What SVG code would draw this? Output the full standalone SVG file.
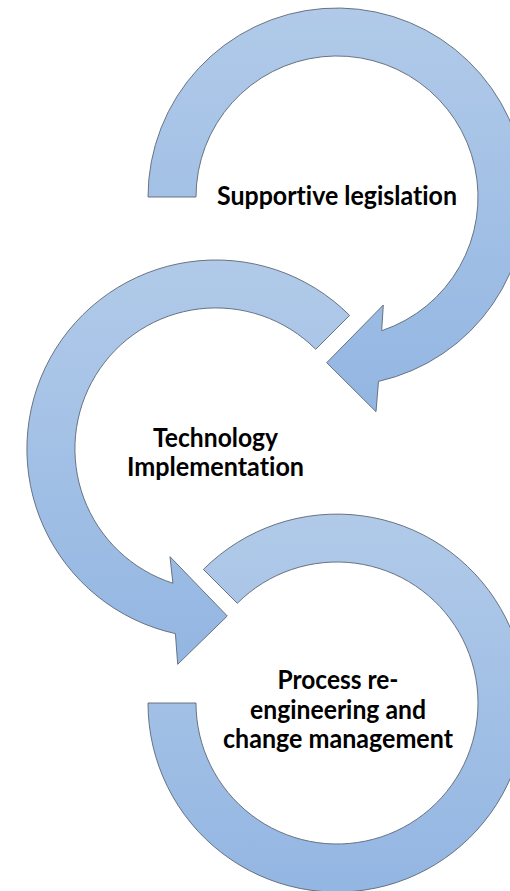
<svg xmlns="http://www.w3.org/2000/svg" width="510" height="891" viewBox="0 0 510 891">
  <defs>
    <linearGradient id="fill" x1="0" y1="0" x2="0" y2="1">
      <stop offset="0" stop-color="#B1CAE9"/>
      <stop offset="1" stop-color="#93B6E2"/>
    </linearGradient>
    <style>
      .arrow { fill: url(#fill); stroke: #5B6676; stroke-width: 0.9; stroke-linejoin: miter; }
      .label { font-family: "Lato", "Open Sans", "Liberation Sans", sans-serif; font-weight: 700; font-size: 26px; fill: #000000; text-anchor: middle; font-variant-ligatures: none; font-feature-settings: "liga" 0, "dlig" 0; }
    </style>
  </defs>
  <rect width="510" height="891" fill="#FFFFFF"/>
  <g id="connectors"/>
  <g id="node-supportive-legislation">
    <path class="arrow" d="M 148,197 A 189 189 0 1 1 378.5,381.4 L 376,411.7 L 326.7,362.7 L 383.3,305 L 381.7,330.7 A 141 141 0 1 0 196,197 Z"/>
    <text class="label" x="337" y="205" textLength="240" lengthAdjust="spacingAndGlyphs">Supportive legislation</text>
  </g>
  <g id="node-technology-implementation">
    <path class="arrow" d="M 349.6,315.4 A 189 189 0 1 0 175.4,633.6 L 177.7,664.3 L 227.3,616 L 170,556.7 L 172.9,583.2 A 141 141 0 1 1 315.7,349.3 Z"/>
    <text class="label" x="215.5" y="447" textLength="125" lengthAdjust="spacingAndGlyphs">Technology</text>
    <text class="label" x="215.5" y="476" textLength="177" lengthAdjust="spacingAndGlyphs">Implementation</text>
  </g>
  <g id="node-process-reengineering">
    <path class="arrow" d="M 148,703 A 189 189 0 1 0 203.4,569.4 L 237.3,603.3 A 141 141 0 1 1 196,703 Z"/>
    <text class="label" x="338" y="689" textLength="121" lengthAdjust="spacingAndGlyphs">Process re-</text>
    <text class="label" x="338" y="719" textLength="176" lengthAdjust="spacingAndGlyphs">engineering and</text>
    <text class="label" x="338" y="748" textLength="230" lengthAdjust="spacingAndGlyphs">change management</text>
  </g>
</svg>
